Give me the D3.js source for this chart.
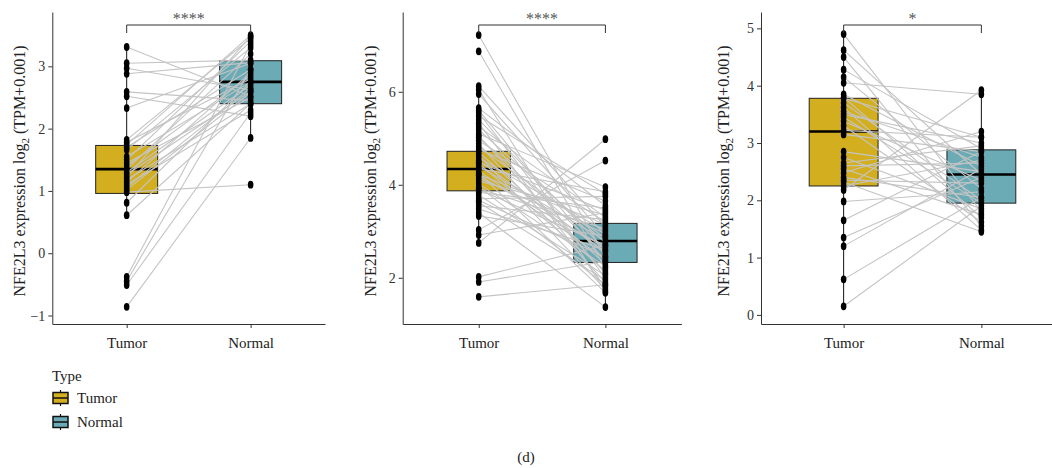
<!DOCTYPE html>
<html lang="en">
<head>
<meta charset="utf-8">
<title>NFE2L3 paired expression</title>
<script src="https://d3js.org/d3.v7.min.js"></script>
<style>
  body { margin: 0; background: #fff; }
  svg { display: block; font-family: "Liberation Serif", "DejaVu Serif", serif; }
</style>
</head>
<body>
<svg id="chart"></svg>
<script>
// ---- data ----
const groups = ["Tumor", "Normal"];

// panel 1 (paired samples, same index = same patient)
const tumor1  = [3.31, 3.05, 2.97, 2.88, 2.59, 2.52, 2.33, 1.82, 1.78, 1.74, 1.70, 1.66, 1.55, 1.50, 1.45, 1.40,
                 1.35, 1.30, 1.26, 1.22, 1.18, 1.14, 1.10, 1.06, 1.02, 0.98, 0.81, 0.61, -0.38, -0.45, -0.51, -0.86];
const normal1 = [2.52, 3.10, 2.62, 3.06, 2.45, 2.20, 3.05, 3.45, 2.80, 3.50, 2.95, 3.30, 2.75, 3.40, 2.50, 2.85,
                 3.20, 2.70, 2.60, 3.48, 2.40, 2.90, 2.30, 2.65, 2.58, 1.10, 2.75, 2.40, 3.35, 2.95, 2.25, 1.85];

// panel 2
const tumor2  = [7.22, 6.87, 6.12, 6.05, 5.95, 5.65, 5.60, 5.55, 5.48, 5.40, 5.32, 5.25, 5.18, 5.10, 5.05, 5.02,
                 4.95, 4.88, 4.82, 4.76, 4.70, 4.64, 4.58, 4.52, 4.48, 4.46, 4.40, 4.35, 4.30, 4.25, 4.22, 4.20,
                 4.14, 4.08, 4.02, 3.96, 3.92, 3.90, 3.84, 3.78, 3.70, 3.66, 3.62, 3.55, 3.48, 3.40, 3.33, 3.03,
                 2.92, 2.75, 2.02, 1.91, 1.59];
const normal2 = [2.45, 2.20, 3.10, 1.70, 2.90, 3.55, 2.35, 2.00, 3.80, 2.60, 1.80, 3.30, 2.75, 3.95, 2.10, 2.50,
                 3.20, 1.90, 2.85, 3.65, 2.30, 1.75, 3.00, 2.55, 3.45, 2.15, 2.80, 3.85, 2.40, 1.68, 3.15, 2.65,
                 2.95, 3.35, 2.25, 1.85, 3.05, 2.70, 3.50, 2.05, 3.75, 2.45, 1.95, 3.25, 2.60, 1.37, 2.90, 4.52,
                 3.40, 4.98, 2.70, 2.35, 1.85];

// panel 3
const tumor3  = [4.90, 4.62, 4.50, 4.28, 4.15, 4.05, 3.85, 3.80, 3.78, 3.70, 3.62, 3.55, 3.50, 3.45, 3.38, 3.30,
                 3.22, 3.15, 2.85, 2.75, 2.65, 2.60, 2.55, 2.48, 2.40, 2.35, 2.32, 2.25, 2.18, 1.98, 1.65, 1.35,
                 1.20, 0.62, 0.15];
const normal3 = [1.80, 2.45, 1.55, 2.90, 2.20, 3.85, 2.60, 1.70, 3.10, 2.00, 1.48, 2.75, 3.00, 1.95, 2.35, 1.62,
                 3.10, 2.85, 2.50, 1.85, 2.95, 2.65, 1.75, 3.20, 2.05, 2.30, 1.45, 2.70, 3.92, 2.15, 2.85, 2.40,
                 2.55, 2.05, 1.90];

// box statistics: [lower whisker, q1, median, q3, upper whisker]
const tumorBox1  = [0.61, 0.96, 1.35, 1.73, 3.31];
const normalBox1 = [1.87, 2.40, 2.75, 3.09, 3.50];
const tumorBox2  = [2.75, 3.87, 4.34, 4.72, 5.95];
const normalBox2 = [1.37, 2.33, 2.79, 3.17, 4.02];
const tumorBox3  = [0.15, 2.25, 3.20, 3.78, 4.90];
const normalBox3 = [1.42, 1.95, 2.45, 2.88, 3.92];

const ticks1 = [-1, 0, 1, 2, 3];
const ticks2 = [2, 4, 6];
const ticks3 = [0, 1, 2, 3, 4, 5];
const signif = ["****", "****", "*"];

const yTitle = "NFE2L3 expression log";
const legendTitle = "Type";
const caption = "(d)";

// ---- layout ----
const width = 1052, height = 468;
const plotTop = 12, plotBottom = 324;
const fill = { Tumor: "#D3AF1F", Normal: "#6BABB5" };

const panels = [
  { tumor: tumor1, normal: normal1, box: [tumorBox1, normalBox1], ticks: ticks1, stars: signif[0],
    x0: 52.3, x1: 325, domain: [-1.136, 3.872], titleX: 25 },
  { tumor: tumor2, normal: normal2, box: [tumorBox2, normalBox2], ticks: ticks2, stars: signif[1],
    x0: 402.7, x1: 681.4, domain: [1.006, 7.716], titleX: 376 },
  { tumor: tumor3, normal: normal3, box: [tumorBox3, normalBox3], ticks: ticks3, stars: signif[2],
    x0: 761, x1: 1064, domain: [-0.159, 5.286], titleX: 729 }
];

const svg = d3.select("#chart")
    .attr("width", width)
    .attr("height", height);

panels.forEach(p => {
  let g = svg.append("g");

  let x = d3.scalePoint().domain(groups).range([p.x0, p.x1]).padding(0.6);
  let y = d3.scaleLinear().domain(p.domain).range([plotBottom, plotTop]);
  let bw = x.step() * 0.5;

  // boxes
  groups.forEach((grp, i) => {
    let s = p.box[i], cx = x(grp);
    g.append("line")
        .attr("x1", cx).attr("x2", cx)
        .attr("y1", y(s[0])).attr("y2", y(s[4]))
        .attr("stroke", "#111").attr("stroke-width", 1);
    g.append("rect")
        .attr("x", cx - bw / 2).attr("width", bw)
        .attr("y", y(s[3])).attr("height", y(s[1]) - y(s[3]))
        .attr("fill", fill[grp])
        .attr("stroke", "#222").attr("stroke-width", 1);
    g.append("line")
        .attr("x1", cx - bw / 2).attr("x2", cx + bw / 2)
        .attr("y1", y(s[2])).attr("y2", y(s[2]))
        .attr("stroke", "#000").attr("stroke-width", 2.6);
  });

  // paired lines
  g.append("g").selectAll("line")
      .data(d3.range(p.tumor.length))
      .join("line")
      .attr("x1", x("Tumor")).attr("y1", i => y(p.tumor[i]))
      .attr("x2", x("Normal")).attr("y2", i => y(p.normal[i]))
      .attr("stroke", "#C4C4C4").attr("stroke-width", 1.1);

  // points
  [["Tumor", p.tumor], ["Normal", p.normal]].forEach(([grp, vals]) => {
    g.append("g").selectAll("ellipse")
        .data(vals)
        .join("ellipse")
        .attr("cx", x(grp)).attr("cy", d => y(d))
        .attr("rx", 2.8).attr("ry", 3.9)
        .attr("fill", "#000");
  });

  // axes
  let yAxis = g.append("g")
      .attr("transform", `translate(${p.x0},0)`)
      .call(d3.axisLeft(y).tickValues(p.ticks).tickSize(4).tickPadding(3).tickSizeOuter(0)
          .tickFormat(d => d < 0 ? "\u2212" + Math.abs(d) : d));
  let xAxis = g.append("g")
      .attr("transform", `translate(0,${plotBottom})`)
      .call(d3.axisBottom(x).tickSize(4).tickPadding(9).tickSizeOuter(0));
  [yAxis, xAxis].forEach(a => {
    a.attr("font-family", null).attr("font-size", null);
    a.select(".domain").attr("stroke", "#333");
    a.selectAll(".tick line").attr("stroke", "#333");
  });
  yAxis.selectAll("text").attr("font-size", 14).attr("fill", "#333");
  xAxis.selectAll("text").attr("font-size", 15).attr("fill", "#222");

  // y title with subscript
  let t = g.append("text")
      .attr("transform", `translate(${p.titleX},${(plotTop + plotBottom) / 2 + 3}) rotate(-90)`)
      .attr("text-anchor", "middle")
      .attr("font-size", 16)
      .attr("fill", "#222");
  t.append("tspan").text(yTitle);
  t.append("tspan").attr("dy", 4).attr("font-size", 11).text("2");
  t.append("tspan").attr("dy", -4).text(" (TPM+0.001)");

  // significance bracket
  let by = 25, leg = 8;
  g.append("path")
      .attr("d", `M${x("Tumor")},${by + leg}V${by}H${x("Normal")}V${by + leg}`)
      .attr("fill", "none").attr("stroke", "#333").attr("stroke-width", 1);
  g.append("text")
      .attr("x", (x("Tumor") + x("Normal")) / 2).attr("y", by - 1)
      .attr("text-anchor", "middle")
      .attr("font-size", 16)
      .attr("fill", "#555")
      .text(p.stars);
});

// legend
const lg = svg.append("g").attr("transform", "translate(52,0)");
lg.append("text").attr("x", 0).attr("y", 381).attr("font-size", 15).attr("fill", "#222").text(legendTitle);
groups.forEach((grp, i) => {
  let cy = 398 + i * 24;
  let k = lg.append("g");
  k.append("line").attr("x1", 8.5).attr("x2", 8.5).attr("y1", cy - 8).attr("y2", cy + 8)
      .attr("stroke", "#111").attr("stroke-width", 1.2);
  k.append("rect").attr("x", 1).attr("y", cy - 5.5).attr("width", 15).attr("height", 11)
      .attr("fill", fill[grp]).attr("stroke", "#111").attr("stroke-width", 1.5);
  k.append("line").attr("x1", 1).attr("x2", 16).attr("y1", cy).attr("y2", cy)
      .attr("stroke", "#111").attr("stroke-width", 1.5);
  lg.append("text").attr("x", 25).attr("y", cy + 5).attr("font-size", 15).attr("fill", "#222").text(grp);
});

svg.append("text")
    .attr("x", 526).attr("y", 462)
    .attr("text-anchor", "middle")
    .attr("font-size", 15)
    .attr("fill", "#222")
    .text(caption);
</script>
</body>
</html>
